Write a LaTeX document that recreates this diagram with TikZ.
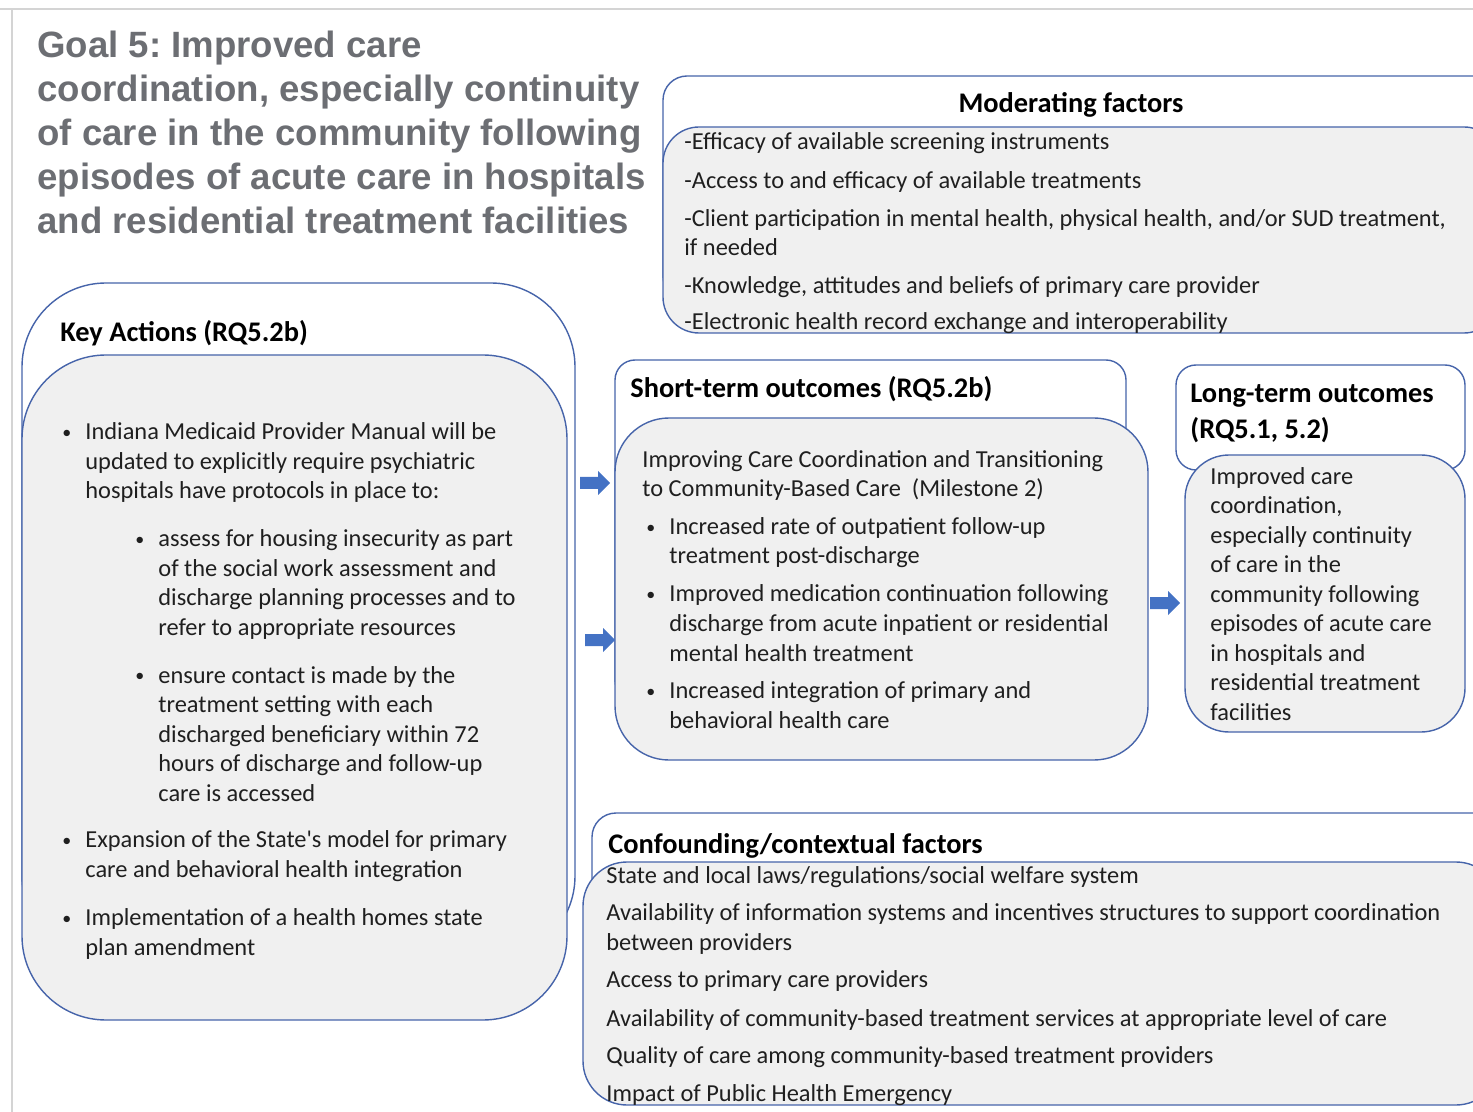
\documentclass[tikz,border=0pt]{standalone}
\usepackage{fontspec}
\setmainfont{Carlito}
\newfontfamily\goalfont{Liberation Sans}
\usetikzlibrary{shapes.arrows}
\definecolor{boxblue}{RGB}{70,100,170}
\definecolor{boxgray}{RGB}{240,240,240}
\definecolor{goalgray}{RGB}{108,110,115}
\definecolor{arrblue}{RGB}{68,114,196}
\definecolor{framegray}{RGB}{212,212,212}
\newcommand\bul{\llap{\makebox[11.5pt][l]{\raisebox{0.6pt}{\fontsize{9}{9}\selectfont•}}}}
\tikzset{
  outerbox/.style={draw=boxblue, line width=0.7pt, fill=white},
  innerbox/.style={draw=boxblue, line width=0.7pt, fill=boxgray},
  body/.style={anchor=base west, inner sep=0pt, align=left, text=black!88,
    font=\fontsize{12.2}{14.75}\selectfont},
  head/.style={anchor=base west, inner sep=0pt, align=left,
    font=\fontsize{14.2}{18}\selectfont\bfseries},
  goal/.style={anchor=base west, inner sep=0pt, align=left, text=goalgray,
    font=\fontsize{18.3}{22}\selectfont\goalfont\bfseries\frenchspacing},
  blockarr/.style={single arrow, fill=arrblue, draw=none, inner sep=2.8pt,
    minimum height=15pt, minimum width=12pt, single arrow head extend=3pt}
}
\begin{document}
\begin{tikzpicture}[x=0.5pt,y=-0.5pt]
\useasboundingbox (0,0) rectangle (1473,1112);
\clip (0,0) rectangle (1473,1112);
\def\rbox#1#2#3#4#5#6{
\draw[#1, rounded corners=#2] (#3,#4) rectangle (#5,#6);
}
\draw[framegray, line width=1pt] (0,9) -- (1473,9);
\draw[framegray, line width=1pt] (12,9) -- (12,1112);

\node[goal] (goal) at (37,234) {Goal 5: Improved care\\coordination, especially continuity\\of care in the community following\\episodes of acute care in hospitals\\and residential treatment facilities};

\rbox{outerbox}{12pt}{663}{76}{1500}{300}
\rbox{innerbox}{18pt}{663}{127}{1500}{333}
\node[head, anchor=base] (modhead) at (1071,113) {Moderating factors};
\node[body] (mod1) at (684,150) {-Efficacy of available screening instruments};
\node[body] (mod2) at (684,189) {-Access to and efficacy of available treatments};
\node[body] (mod3) at (684,256) {-Client participation in mental health, physical health, and/or SUD treatment,\\if needed};
\node[body] (mod4) at (684,294) {-Knowledge, attitudes and beliefs of primary care provider};
\node[body] (mod5) at (684,330) {-Electronic health record exchange and interoperability};

\rbox{outerbox}{42pt}{22}{283}{575}{960}
\rbox{innerbox}{42pt}{22}{355}{567}{1020}
\node[head] (keyhead) at (60,342) {Key Actions (RQ5.2b)};
\node[body] (key1) at (85,499) {\bul Indiana Medicaid Provider Manual will be\\updated to explicitly require psychiatric\\hospitals have protocols in place to:};
\node[body] (key2) at (158,635) {\bul assess for housing insecurity as part\\of the social work assessment and\\discharge planning processes and to\\refer to appropriate resources};
\node[body] (key3) at (158,801) {\bul ensure contact is made by the\\treatment setting with each\\discharged beneficiary within 72\\hours of discharge and follow-up\\care is accessed};
\node[body] (key4) at (85,877) {\bul Expansion of the State\textquotesingle s model for primary\\care and behavioral health integration};
\node[body] (key5) at (85,955) {\bul Implementation of a health homes state\\plan amendment};

\rbox{outerbox}{10pt}{615}{360}{1126}{700}
\rbox{innerbox}{27pt}{615}{418}{1148}{760}
\node[head] (shorthead) at (630,398) {Short-term outcomes (RQ5.2b)};
\node[body] (short1) at (642,497) {Improving Care Coordination and Transitioning\\to Community-Based Care~~(Milestone 2)};
\node[body] (short2) at (669,564) {\bul Increased rate of outpatient follow-up\\treatment post-discharge};
\node[body] (short3) at (669,661) {\bul Improved medication continuation following\\discharge from acute inpatient or residential\\mental health treatment};
\node[body] (short4) at (669,728) {\bul Increased integration of primary and\\behavioral health care};

\rbox{outerbox}{10pt}{1176}{365}{1465}{470}
\rbox{innerbox}{22pt}{1185}{455}{1465}{732}
\node[head] (longhead) at (1190,439) {Long-term outcomes\\(RQ5.1, 5.2)};
\node[body] (long1) at (1210,720) {Improved care\\coordination,\\especially continuity\\of care in the\\community following\\episodes of acute care\\in hospitals and\\residential treatment\\facilities};

\rbox{outerbox}{12pt}{592}{813}{1500}{1000}
\rbox{innerbox}{22pt}{583}{862}{1500}{1105}
\node[head] (confhead) at (608,853) {Confounding/contextual factors};
\node[body] (conf1) at (606,883) {State and local laws/regulations/social welfare system};
\node[body] (conf2) at (606,950) {Availability of information systems and incentives structures to support coordination\\between providers};
\node[body] (conf3) at (606,987) {Access to primary care providers};
\node[body] (conf4) at (606,1026) {Availability of community-based treatment services at appropriate level of care};
\node[body] (conf5) at (606,1063) {Quality of care among community-based treatment providers};
\node[body] (conf6) at (606,1101) {Impact of Public Health Emergency};

\node[blockarr] (arr1) at (592,483) {};
\node[blockarr] (arr2) at (597,640) {};
\node[blockarr] (arr3) at (1162,603) {};
\end{tikzpicture}
\end{document}
